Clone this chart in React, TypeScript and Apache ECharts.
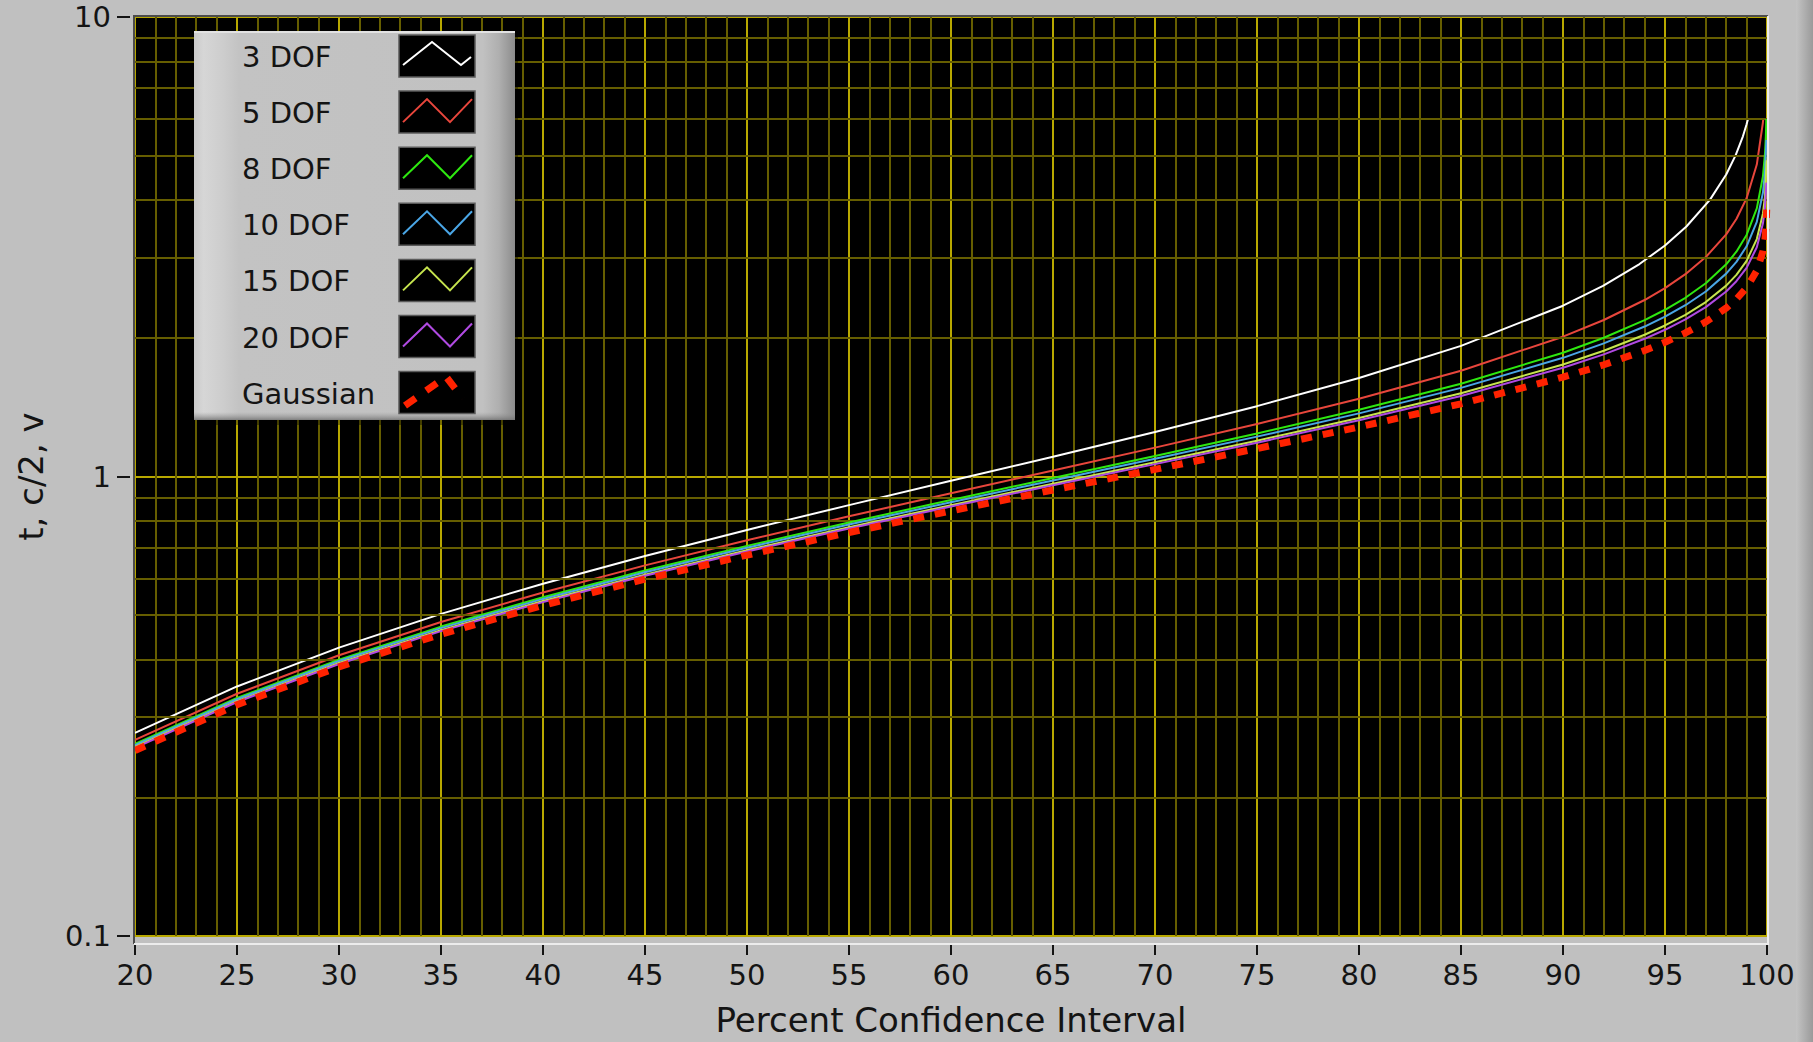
import React, { useEffect, useRef } from "react";
import * as echarts from "echarts";

// ---------------- data ----------------
const SERIES_NAMES = ["3 DOF", "5 DOF", "8 DOF", "10 DOF", "15 DOF", "20 DOF", "Gaussian"];
const SERIES_COLORS = ["#ffffff", "#e8463c", "#2ee810", "#4aa6e6", "#c6e44e", "#b04ae2", "#ff2200"];

const X_AXIS_NAME = "Percent Confidence Interval";
const Y_AXIS_NAME = "t, c/2, v";
const Y_TICK_VALUES = [0.1, 1, 10];
const Y_TICK_LABELS = ["0.1", "1", "10"];
const Y_MINOR_GRID = [0.2, 0.3, 0.4, 0.5, 0.6, 0.7, 0.8, 0.9, 2, 3, 4, 5, 6, 7, 8, 9];

const X_BASE = [20, 25, 30, 35, 40, 45, 50, 55, 60, 65, 70, 75, 80, 85, 90, 92, 94, 95, 96, 97, 98, 98.5, 99, 99.5, 99.8, 99.9];

const X_3DOF = [20, 25, 30, 35, 40, 45, 50, 55, 60, 65, 70, 75, 80, 85, 90, 91.96, 93.75, 95, 96.05, 97.2, 98, 98.46, 98.82, 99, 99.07];
const Y_3DOF = [0.2767, 0.3492, 0.4242, 0.5023, 0.5844, 0.6715, 0.7649, 0.8664, 0.9785, 1.1045, 1.2498, 1.4226, 1.6377, 1.9243, 2.3534, 2.6, 2.9, 3.1824, 3.5, 4.0, 4.5407, 5.0, 5.5, 5.8409, 6.0];

const X_5DOF = [20, 25, 30, 35, 40, 45, 50, 55, 60, 65, 70, 75, 80, 85, 90, 92, 94, 95, 96, 97, 98, 98.5, 99, 99.5, 99.8, 99.815];
const Y_5DOF = [0.2672, 0.3367, 0.4082, 0.4823, 0.5594, 0.6406, 0.7267, 0.8191, 0.9195, 1.0306, 1.1558, 1.301, 1.4759, 1.6994, 2.015, 2.1909, 2.4214, 2.5706, 2.7565, 3.003, 3.3649, 3.635, 4.0321, 4.7733, 5.8934, 6.0];

const Y_8DOF = [0.2619, 0.3298, 0.3995, 0.4714, 0.5459, 0.6241, 0.7064, 0.7942, 0.8889, 0.9926, 1.1081, 1.2403, 1.3968, 1.5922, 1.8595, 2.0042, 2.1892, 2.306, 2.4489, 2.6338, 2.8965, 3.085, 3.3554, 3.8325, 4.5008, 5.0413];
const TAIL_X_8DOF = [99.943, 99.968];
const TAIL_Y_8DOF = [5.5, 6.0];

const Y_10DOF = [0.2602, 0.3275, 0.3966, 0.4678, 0.5415, 0.6187, 0.6998, 0.7862, 0.8791, 0.9804, 1.0931, 1.2212, 1.3722, 1.5592, 1.8125, 1.9481, 2.1202, 2.2281, 2.3592, 2.5275, 2.7638, 2.9316, 3.1693, 3.5814, 4.1437, 4.5869];
const TAIL_X_10DOF = [99.97];
const TAIL_Y_10DOF = [5.4];

const Y_15DOF = [0.2579, 0.3245, 0.3928, 0.4631, 0.5357, 0.6116, 0.6912, 0.7757, 0.8662, 0.9647, 1.0735, 1.1966, 1.3406, 1.5172, 1.7531, 1.8778, 2.0343, 2.1314, 2.2485, 2.397, 2.6025, 2.7462, 2.9467, 3.286, 3.7328, 4.0728];
const TAIL_X_15DOF = [99.98];
const TAIL_Y_15DOF = [4.88];

const Y_20DOF = [0.2567, 0.323, 0.3909, 0.4607, 0.5329, 0.6081, 0.687, 0.7705, 0.86, 0.957, 1.064, 1.1847, 1.3253, 1.497, 1.7247, 1.8444, 1.9937, 2.086, 2.1966, 2.3363, 2.528, 2.6611, 2.8453, 3.1534, 3.5518, 3.8495];
const TAIL_X_20DOF = [99.97];
const TAIL_Y_20DOF = [4.36];

const Y_GAUSS = [0.2533, 0.3186, 0.3853, 0.4538, 0.5244, 0.5978, 0.6745, 0.7554, 0.8416, 0.9346, 1.0364, 1.1503, 1.2816, 1.4395, 1.6449, 1.7507, 1.8808, 1.96, 2.0537, 2.1701, 2.3263, 2.4324, 2.5758, 2.807, 3.0902, 3.2905];
const TAIL_X_GAUSS = [99.95, 99.986];
const TAIL_Y_GAUSS = [3.4808, 3.81];

// ---------------- helpers ----------------
const zip = (xs: number[], ys: number[]) => xs.map((x, i) => [x, ys[i]]);

const SERIES_DATA = [
  zip(X_3DOF, Y_3DOF),
  zip(X_5DOF, Y_5DOF),
  zip([...X_BASE, ...TAIL_X_8DOF], [...Y_8DOF, ...TAIL_Y_8DOF]),
  zip([...X_BASE, ...TAIL_X_10DOF], [...Y_10DOF, ...TAIL_Y_10DOF]),
  zip([...X_BASE, ...TAIL_X_15DOF], [...Y_15DOF, ...TAIL_Y_15DOF]),
  zip([...X_BASE, ...TAIL_X_20DOF], [...Y_20DOF, ...TAIL_Y_20DOF]),
  zip([...X_BASE, ...TAIL_X_GAUSS], [...Y_GAUSS, ...TAIL_Y_GAUSS]),
];

const FONT = "DejaVu Sans";
const TEXT_COLOR = "#141414";
const BG = "#c0c0c0";
const GRID_MAJOR = "#b8a800";
const GRID_MINOR = "#665e00";

// plot geometry (pixels)
const PLOT_LEFT = 135;
const PLOT_TOP = 17;
const PLOT_RIGHT = 1767;
const PLOT_BOTTOM = 943;
const W = 1813;
const H = 1042;
const LZ = 200;

function buildLegend() {
  const bx = 194, by = 31, bw = 321, bh = 389;
  const rowTop0 = 35, pitch = 56.1, sw = 76, sh = 42, sx = 399;
  const children: any[] = [];
  children.push({
    type: "rect",
    z: LZ,
    shape: { x: bx + 3, y: by + 5, width: bw, height: bh },
    style: { fill: "rgba(0,0,0,0.35)" },
  });
  children.push({
    type: "rect",
    z: LZ + 1,
    shape: { x: bx, y: by, width: bw, height: bh },
    style: {
      fill: new echarts.graphic.LinearGradient(0, 0, 1, 0, [
        { offset: 0, color: "#cbcbcb" },
        { offset: 0.03, color: "#d6d6d6" },
        { offset: 0.09, color: "#cdcdcd" },
        { offset: 0.14, color: "#c3c3c3" },
        { offset: 0.9, color: "#c1c1c1" },
        { offset: 0.95, color: "#afafaf" },
        { offset: 1, color: "#8c8c8c" },
      ]),
    },
  });
  children.push({
    type: "rect",
    z: LZ + 2,
    shape: { x: bx, y: by + bh - 8, width: bw, height: 8 },
    style: {
      fill: new echarts.graphic.LinearGradient(0, 0, 0, 1, [
        { offset: 0, color: "rgba(150,150,150,0)" },
        { offset: 1, color: "rgba(110,110,110,0.8)" },
      ]),
    },
  });
  children.push({
    type: "line",
    z: LZ + 2,
    shape: { x1: bx, y1: by + 1, x2: bx + bw, y2: by + 1 },
    style: { stroke: "#e2e2e2", lineWidth: 2 },
  });
  SERIES_NAMES.forEach((name, i) => {
    const top = rowTop0 + i * pitch;
    const cy = top + sh / 2;
    children.push({
      type: "text",
      z: LZ + 3,
      style: {
        x: 242,
        y: cy + 1,
        text: name,
        fill: TEXT_COLOR,
        font: `29px "${FONT}"`,
        verticalAlign: "middle",
        align: "left",
      },
    });
    children.push({
      type: "rect",
      z: LZ + 3,
      shape: { x: sx, y: top, width: sw, height: sh },
      style: { fill: "#000", stroke: "#5a5a5a", lineWidth: 1.5 },
    });
    let pts: number[][];
    const isGauss = i === SERIES_NAMES.length - 1;
    if (i === 0) {
      pts = [[sx + 4, top + 30], [sx + 33, top + 7], [sx + 62, top + 30], [sx + 72, top + 22]];
    } else if (isGauss) {
      pts = [[sx + 6, top + 34], [sx + 47, top + 5], [sx + 64, top + 27]];
    } else {
      pts = [[sx + 4, top + 31], [sx + 28, top + 8], [sx + 51, top + 31], [sx + 73, top + 8]];
    }
    children.push({
      type: "polyline",
      z: LZ + 4,
      shape: { points: pts },
      style: {
        stroke: SERIES_COLORS[i],
        lineWidth: isGauss ? 7 : 2,
        lineDash: isGauss ? [13, 13] : null,
        fill: null,
      },
    });
  });
  return { type: "group", z: LZ, children };
}

function buildOption(): any {
  const lineSeries = SERIES_NAMES.map((name, i) => {
    const isGauss = i === SERIES_NAMES.length - 1;
    return {
      name,
      type: "line",
      data: SERIES_DATA[i],
      symbol: "none",
      showSymbol: false,
      smooth: false,
      clip: true,
      z: 3 + i,
      silent: true,
      lineStyle: {
        color: SERIES_COLORS[i],
        width: isGauss ? 7 : 2,
        type: isGauss ? [11, 11] : "solid",
        cap: "butt",
      },
      itemStyle: { color: SERIES_COLORS[i] },
    };
  });

  const minorGridSeries = {
    name: "minor-grid",
    type: "line",
    data: [[20, 0.1]],
    symbol: "none",
    silent: true,
    z: 1,
    lineStyle: { opacity: 0 },
    markLine: {
      silent: true,
      symbol: ["none", "none"],
      label: { show: false },
      emphasis: { disabled: true },
      lineStyle: { color: GRID_MINOR, width: 2, type: "solid" },
      data: Y_MINOR_GRID.map((v) => ({ yAxis: v })),
      animation: false,
    },
  };

  return {
    animation: false,
    backgroundColor: BG,
    grid: {
      left: PLOT_LEFT,
      top: PLOT_TOP,
      right: W - PLOT_RIGHT,
      bottom: H - PLOT_BOTTOM,
      show: true,
      backgroundColor: "#000",
      borderWidth: 0,
      containLabel: false,
    },
    xAxis: {
      type: "value",
      min: 20,
      max: 100,
      interval: 5,
      offset: 7,
      axisLine: { show: false },
      axisTick: { show: true, length: 12, lineStyle: { color: TEXT_COLOR, width: 2 } },
      axisLabel: { show: true, fontSize: 29, fontFamily: FONT, color: TEXT_COLOR, margin: 17 },
      splitLine: { show: true, lineStyle: { color: GRID_MAJOR, width: 2 } },
      minorTick: { show: false, splitNumber: 5 },
      minorSplitLine: { show: true, lineStyle: { color: GRID_MINOR, width: 2 } },
      name: X_AXIS_NAME,
      nameLocation: "middle",
      nameGap: 60,
      nameTextStyle: { fontSize: 34, fontFamily: FONT, color: TEXT_COLOR },
    },
    yAxis: {
      type: "log",
      logBase: 10,
      min: 0.1,
      max: 10,
      offset: 5,
      axisLine: { show: false },
      axisTick: { show: true, length: 13, lineStyle: { color: TEXT_COLOR, width: 2 } },
      axisLabel: {
        show: true,
        fontSize: 29,
        fontFamily: FONT,
        color: TEXT_COLOR,
        margin: 19,
        formatter: (v: number) => {
          const idx = Y_TICK_VALUES.findIndex((t) => Math.abs(t - v) / t < 1e-6);
          return idx >= 0 ? Y_TICK_LABELS[idx] : "";
        },
      },
      splitLine: { show: true, lineStyle: { color: GRID_MAJOR, width: 2 } },
      name: Y_AXIS_NAME,
      nameLocation: "middle",
      nameRotate: 90,
      nameGap: 82,
      nameTextStyle: { fontSize: 34, fontFamily: FONT, color: TEXT_COLOR },
    },
    series: [minorGridSeries, ...lineSeries],
    graphic: [
      // sunken frame around plot
      { type: "line", z: 50, shape: { x1: PLOT_LEFT - 2, y1: PLOT_TOP - 1, x2: PLOT_RIGHT + 1, y2: PLOT_TOP - 1 }, style: { stroke: "#4c4c4c", lineWidth: 2 } },
      { type: "line", z: 50, shape: { x1: PLOT_LEFT - 1, y1: PLOT_TOP - 1, x2: PLOT_LEFT - 1, y2: PLOT_BOTTOM + 1 }, style: { stroke: "#4c4c4c", lineWidth: 2 } },
      { type: "line", z: 50, shape: { x1: PLOT_LEFT - 1, y1: PLOT_BOTTOM + 1, x2: PLOT_RIGHT + 2, y2: PLOT_BOTTOM + 1 }, style: { stroke: "#ececec", lineWidth: 2 } },
      { type: "line", z: 50, shape: { x1: PLOT_RIGHT + 1, y1: PLOT_TOP - 1, x2: PLOT_RIGHT + 1, y2: PLOT_BOTTOM + 2 }, style: { stroke: "#ececec", lineWidth: 2 } },
      // right edge frame strip
      {
        type: "rect",
        z: 50,
        shape: { x: 1796, y: 0, width: 17, height: H },
        style: {
          fill: new echarts.graphic.LinearGradient(0, 0, 1, 0, [
            { offset: 0, color: "#c4c4c4" },
            { offset: 1, color: "#9a9a9a" },
          ]),
        },
      },
      buildLegend(),
    ],
  };
}

export default function App() {
  const ref = useRef<HTMLDivElement>(null);
  useEffect(() => {
    if (!ref.current) return;
    const chart = echarts.init(ref.current, null, { renderer: "svg" });
    chart.setOption(buildOption());
    return () => {
      chart.dispose();
    };
  }, []);
  return (
    <div
      ref={ref}
      style={{ position: "absolute", left: 0, top: 0, width: W, height: H }}
    />
  );
}
